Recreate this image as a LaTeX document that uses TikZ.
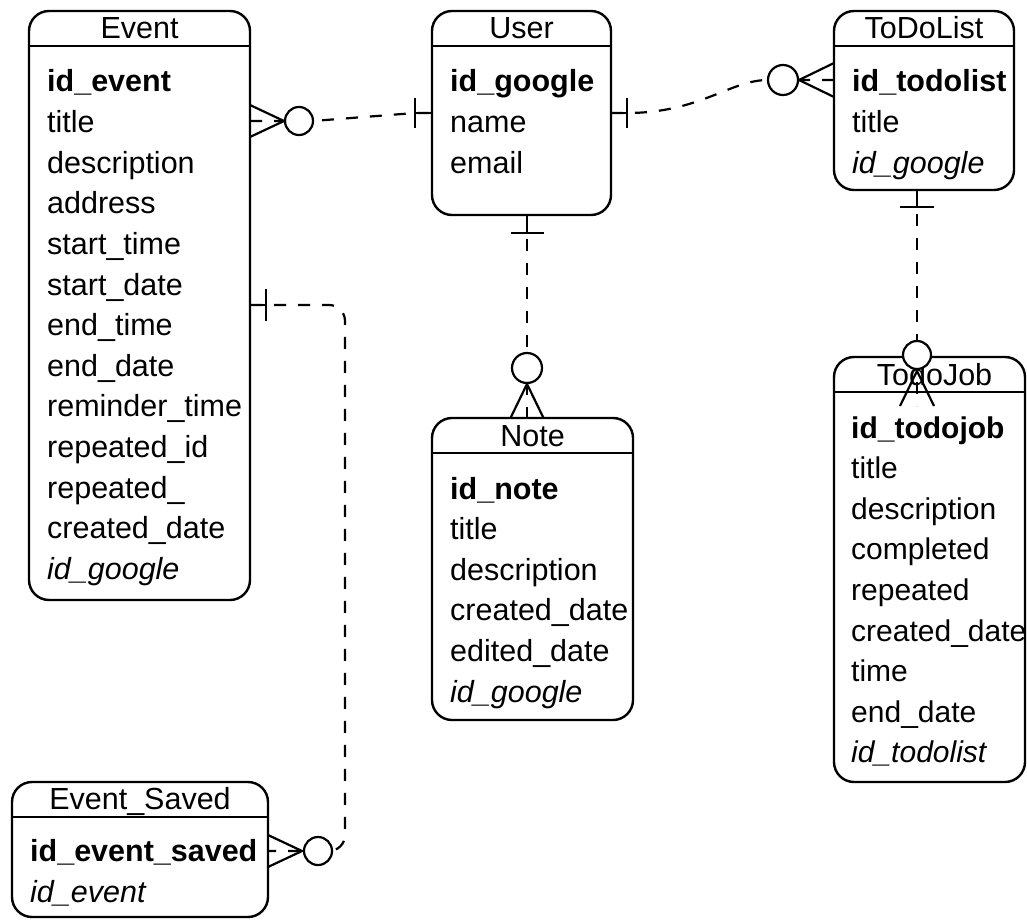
\documentclass[tikz,border=0pt]{standalone}
\usepackage{fontspec}
\setmainfont{Liberation Sans}
\usetikzlibrary{calc}
\begin{document}
\begin{tikzpicture}[x=1pt, y=-1pt,
  tbl/.style={draw, line width=2.4pt, rounded corners=20pt, outer sep=0pt, inner sep=0pt, anchor=north west},
  hdr/.style={anchor=base, inner sep=0pt, font=\fontsize{30.5}{36}\selectfont},
  fld/.style={anchor=base west, inner sep=0pt, font=\fontsize{30.5}{36}\selectfont},
  conn/.style={line width=2.2pt},
  dashconn/.style={conn, dash pattern=on 12pt off 12pt},
  ring/.style={conn, fill=white}
]
\useasboundingbox (0,0) rectangle (1027,920);

% tables
\node[tbl, minimum width=221pt, minimum height=589pt] (event) at (29,11) {};
\node[tbl, minimum width=179pt, minimum height=204pt] (user) at (432,11) {};
\node[tbl, minimum width=180pt, minimum height=179pt] (todolist) at (834,11) {};
\node[tbl, minimum width=201pt, minimum height=302pt] (note) at (432,418) {};
\node[tbl, minimum width=191pt, minimum height=425pt] (todojob) at (834,357) {};
\node[tbl, minimum width=256pt, minimum height=135pt] (saved) at (12,782) {};

\foreach \b in {event,user,todolist,note,todojob,saved}
  \draw[line width=2.4pt] ([yshift=-35pt]\b.north west) -- ([yshift=-35pt]\b.north east);

% table titles
\node[hdr] (event-h) at ($(event.north)+(0,28)$) {Event};
\node[hdr] (user-h) at ($(user.north)+(0,28)$) {User};
\node[hdr] (todolist-h) at ($(todolist.north)+(0,28)$) {ToDoList};
\node[hdr] (note-h) at ($(note.north)+(0,28)$) {Note};
\node[hdr] (todojob-h) at ($(todojob.north)+(5,28)$) {TodoJob};
\node[hdr] (saved-h) at ($(saved.north)+(0,27)$) {Event\_Saved};

% fields
\foreach \t [count=\i from 0] in {\textbf{id\_event}, title, description, address,
    start\_time, start\_date, end\_time, end\_date, reminder\_time, repeated\_id,
    repeated\_, created\_date, \textit{id\_google}}
  \node[fld] (event-\i) at ($(event.north west)+(18,81+40.6*\i)$) {\t};
\foreach \t [count=\i from 0] in {\textbf{id\_google}, name, email}
  \node[fld] (user-\i) at ($(user.north west)+(18,81+40.6*\i)$) {\t};
\foreach \t [count=\i from 0] in {\textbf{id\_todolist}, title, \textit{id\_google}}
  \node[fld] (todolist-\i) at ($(todolist.north west)+(18,81+40.6*\i)$) {\t};
\foreach \t [count=\i from 0] in {\textbf{id\_note}, title, description, created\_date,
    edited\_date, \textit{id\_google}}
  \node[fld] (note-\i) at ($(note.north west)+(18,81+40.6*\i)$) {\t};
\foreach \t [count=\i from 0] in {\textbf{id\_todojob}, title, description, completed,
    repeated, created\_date, time, end\_date, \textit{id\_todolist}}
  \node[fld, font=\fontsize{30}{36}\selectfont] (todojob-\i) at ($(todojob.north west)+(17,81+40.6*\i)$) {\t};
\foreach \t [count=\i from 0] in {\textbf{id\_event\_saved}, \textit{id\_event}}
  \node[fld] (saved-\i) at ($(saved.north west)+(18,79+41*\i)$) {\t};

% connector end points
\coordinate (c1a) at ([yshift=-110pt]event.north east);
\coordinate (c1b) at ([yshift=-102pt]user.north west);
\coordinate (c2a) at ([yshift=-102pt]user.north east);
\coordinate (c2b) at ([yshift=-69pt]todolist.north west);
\coordinate (c3a) at ([xshift=5.5pt]user.south);
\coordinate (c3b) at (c3a |- note.north);
\coordinate (c4a) at ([xshift=-7pt]todolist.south);
\coordinate (c4b) at ($(c4a |- todojob.north)+(0,49)$);
\coordinate (c5a) at ([yshift=-294pt]event.north east);
\coordinate (c5b) at ([yshift=-69pt]saved.north east);

% Event -- User
\draw[dashconn] (c1a) -- ++(63,0) -- ($(c1b)+(-17,0)$) -- (c1b);
\draw[conn] ($(c1b)+(-17,0)$) -- (c1b);
\draw[conn] ($(c1b)+(-17,-15)$) -- ++(0,30);
\draw[ring] ($(c1a)+(49,0)$) circle[radius=14pt];
\draw[conn] ($(c1a)+(0,-16)$) -- ($(c1a)+(34,0)$) -- ($(c1a)+(0,16)$);

% User -- ToDoList
\draw[dashconn] (c2a) -- ($(c2a)+(16,0)$)
  .. controls ($(c2a)+(89,0)$) and ($(c2b)+(-104,0)$) .. ($(c2b)+(-66,0)$) -- (c2b);
\draw[conn] (c2a) -- ++(16,0);
\draw[conn] ($(c2a)+(16,-15)$) -- ++(0,30);
\draw[ring] ($(c2b)+(-51,0)$) circle[radius=15pt];
\draw[conn] ($(c2b)+(0,-17)$) -- ($(c2b)+(-35,0)$) -- ($(c2b)+(0,17)$);

% User -- Note
\draw[dashconn] (c3a) -- (c3b);
\draw[conn] (c3a) -- ++(0,18);
\draw[conn] ($(c3a)+(-16.5,18)$) -- ++(33,0);
\draw[ring] ($(c3b)+(0,-50)$) circle[radius=15pt];
\draw[conn] ($(c3b)+(-16.5,0)$) -- ($(c3b)+(0,-34)$) -- ($(c3b)+(16.5,0)$);

% ToDoList -- TodoJob
\draw[dashconn] (c4a) -- (c4b);
\draw[conn] (c4a) -- ++(0,17);
\draw[conn] ($(c4a)+(-17,17)$) -- ++(34,0);
\draw[ring] ($(c4b)+(0,-51)$) circle[radius=14pt];
\draw[conn] ($(c4b)+(-17,0)$) -- ($(c4b)+(0,-35)$) -- ($(c4b)+(17,0)$);

% Event -- Event_Saved
\draw[dashconn, rounded corners=16pt] (c5a) -- ($(c5a)+(95,0)$) -- ($(c5b)+(77,0)$) -- (c5b);
\draw[conn] (c5a) -- ++(16,0);
\draw[conn] ($(c5a)+(16,-16)$) -- ++(0,32);
\draw[ring] ($(c5b)+(50,0)$) circle[radius=14pt];
\draw[conn] ($(c5b)+(0,-16)$) -- ($(c5b)+(34,0)$) -- ($(c5b)+(0,16)$);
\end{tikzpicture}
\end{document}
